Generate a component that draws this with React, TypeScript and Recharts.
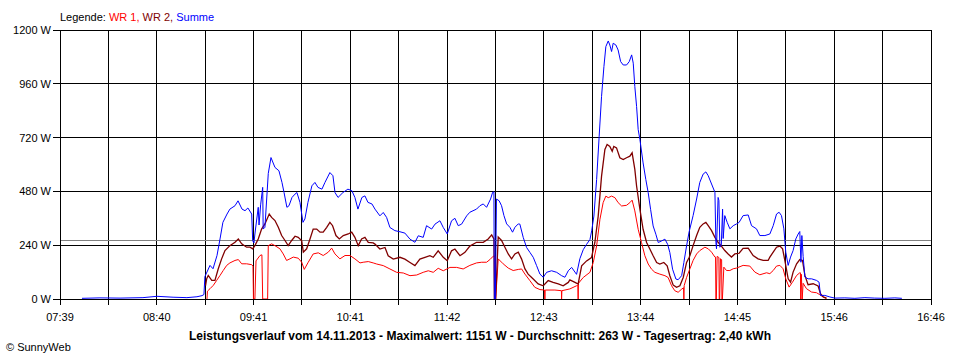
import { LineChart, Line, XAxis, YAxis, CartesianGrid, ReferenceLine } from 'recharts';

// time in minutes after midnight, power in W
const xLabels = ["07:39", "08:40", "09:41", "10:41", "11:42", "12:43", "13:44", "14:45", "15:46", "16:46"];
const yTicks = [0, 240, 480, 720, 960, 1200];
const durchschnitt = 263;

const wr1: [number, number][] = [
  [551.3, 0], [551.6, 35], [553.2, 46], [555.3, 61], [557.4, 83], [559.5, 105], [561.5, 127], [563.7, 150],
  [565.7, 161], [568.9, 172], [571.0, 176], [573.1, 157], [576.2, 157], [579.4, 153], [580.2, 147], [580.5, 0],
  [581.4, 0], [582.1, 170], [584.6, 194], [585.8, 197], [586.3, 0], [589.4, 0], [589.8, 238], [591.9, 246],
  [594.0, 238], [597.1, 224], [599.2, 201], [601.3, 172], [603.4, 179], [605.5, 187], [608.6, 182], [610.8, 164],
  [612.4, 132], [614.9, 164], [618.0, 201], [621.2, 206], [624.3, 194], [627.5, 209], [629.6, 227], [631.7, 201],
  [634.8, 179], [638.0, 194], [641.1, 194], [644.2, 179], [647.4, 161], [649.4, 164], [652.6, 167], [655.7, 161],
  [657.9, 156], [662.0, 149], [666.2, 134], [670.4, 119], [674.6, 116], [678.8, 104], [683.0, 107], [687.1, 119],
  [690.3, 126], [693.4, 119], [696.5, 137], [699.7, 126], [703.9, 141], [708.1, 141], [712.2, 134], [716.4, 150],
  [720.6, 161], [723.8, 164], [726.9, 164], [729.0, 176], [731.1, 191], [732.1, 191], [732.3, 0], [732.6, 0],
  [734.2, 179], [737.3, 157], [740.5, 138], [743.6, 127], [746.8, 132], [748.9, 134], [751.0, 111], [754.1, 82],
  [757.2, 52], [760.4, 42], [763.3, 40], [763.5, 0], [763.7, 40], [769.8, 40], [773.9, 37], [774.0, 0],
  [774.2, 37], [779.2, 45], [783.4, 59], [784.2, 62], [784.4, 0], [784.6, 70], [787.6, 96], [791.8, 119],
  [793.9, 163], [796.0, 237], [798.1, 356], [800.1, 430], [801.8, 459], [803.3, 452], [805.4, 459], [807.5, 452],
  [809.5, 430], [811.7, 415], [814.8, 418], [816.9, 430], [818.3, 441], [820.0, 393], [822.1, 311], [824.2, 252],
  [826.3, 193], [828.4, 156], [830.5, 133], [832.6, 119], [835.7, 111], [838.9, 104], [840.9, 96], [843.1, 59],
  [845.1, 37], [847.2, 30], [849.4, 44], [850.6, 50], [850.8, 0], [851.0, 60], [852.5, 96], [854.1, 126],
  [854.6, 135], [856.6, 172], [858.8, 201], [860.8, 216], [864.0, 231], [866.1, 224], [868.2, 209], [870.3, 187],
  [870.7, 187], [870.9, 0], [871.2, 0], [871.7, 190], [872.8, 185], [873.0, 0], [873.3, 0], [873.8, 180],
  [874.5, 175], [874.7, 0], [875.0, 0], [875.9, 142], [877.6, 127], [879.7, 127], [881.8, 135], [883.9, 138],
  [888.0, 150], [892.2, 147], [895.4, 120], [898.5, 108], [902.7, 117], [904.8, 113], [906.9, 127], [909.0, 147],
  [911.1, 150], [913.1, 135], [914.8, 90], [916.9, 53], [919.0, 75], [921.6, 105], [923.6, 117], [924.0, 117],
  [924.2, 0], [924.6, 110], [925.1, 0], [925.7, 70], [927.8, 46], [931.0, 31], [934.1, 28], [936.2, 19],
  [938.3, 9], [940.4, 1],
];

const wr2: [number, number][] = [
  [550.4, 60], [551.1, 90], [552.1, 105], [554.3, 83], [556.3, 83], [558.4, 135], [560.5, 179], [562.6, 216],
  [565.7, 238], [568.9, 253], [571.0, 268], [573.1, 246], [576.2, 231], [578.3, 231], [580.0, 224], [581.4, 238],
  [583.5, 268], [585.6, 312], [587.7, 335], [590.4, 379], [591.9, 364], [594.0, 350], [596.1, 320], [598.2, 283],
  [600.3, 261], [602.3, 238], [604.5, 261], [606.6, 280], [608.6, 275], [610.8, 260], [611.8, 209], [613.9, 224],
  [616.0, 268], [618.0, 312], [620.2, 312], [622.3, 298], [624.3, 298], [626.5, 320], [628.5, 342], [630.2, 327],
  [632.3, 283], [634.4, 268], [636.9, 283], [640.0, 290], [642.2, 298], [644.2, 275], [646.3, 238], [648.4, 268],
  [650.5, 275], [652.6, 253], [655.7, 250], [656.8, 245], [659.9, 223], [663.1, 230], [665.1, 193], [668.3, 178],
  [672.5, 186], [675.6, 178], [678.8, 163], [681.9, 149], [685.0, 178], [688.2, 186], [691.3, 193], [693.4, 186],
  [696.5, 215], [699.7, 186], [702.2, 171], [704.9, 215], [707.0, 223], [710.2, 193], [713.3, 208], [716.4, 236],
  [720.6, 253], [724.8, 253], [727.9, 268], [730.1, 286], [731.5, 268], [731.8, 0], [732.6, 0], [734.2, 276],
  [736.3, 261], [738.4, 231], [740.5, 201], [742.6, 179], [744.7, 201], [746.8, 209], [748.9, 178], [751.0, 134],
  [753.0, 111], [756.2, 89], [759.3, 67], [762.5, 59], [765.6, 82], [768.7, 74], [771.9, 67], [775.0, 59],
  [778.2, 74], [779.2, 85], [782.4, 74], [784.4, 67], [786.6, 148], [789.7, 170], [792.8, 185], [794.9, 252],
  [797.0, 370], [799.1, 548], [801.2, 667], [802.6, 689], [804.3, 681], [805.8, 659], [806.8, 681], [808.5, 674],
  [810.6, 630], [812.7, 622], [814.8, 630], [816.9, 637], [818.3, 652], [820.0, 578], [821.1, 504], [823.2, 400],
  [825.2, 311], [827.4, 252], [829.5, 222], [831.5, 193], [833.7, 163], [835.7, 156], [838.2, 163], [840.3, 148],
  [842.0, 104], [844.1, 62], [846.2, 52], [848.3, 59], [850.4, 96], [852.5, 163], [854.1, 185], [854.6, 194],
  [856.6, 238], [858.8, 283], [860.8, 320], [862.9, 335], [864.6, 342], [866.1, 327], [868.2, 305], [870.3, 275],
  [872.3, 253], [874.5, 235], [876.5, 216], [878.6, 201], [880.7, 187], [882.8, 201], [885.5, 204], [888.0, 226],
  [891.2, 227], [894.3, 194], [897.4, 179], [900.6, 172], [903.7, 172], [904.8, 187], [906.9, 209], [909.0, 231],
  [911.1, 236], [912.8, 224], [914.2, 172], [916.3, 90], [917.8, 75], [919.4, 120], [921.6, 157], [923.6, 176],
  [925.3, 172], [926.8, 105], [928.8, 64], [932.0, 68], [935.1, 58], [936.6, 24], [938.3, 9], [940.4, 4],
];

const summe: [number, number][] = [
  [472.8, 3], [484.1, 5], [496.7, 4], [511.1, 6], [519.9, 12], [530.0, 8], [538.7, 6], [545.0, 10],
  [548.2, 15], [549.4, 20], [550.0, 100], [553.2, 150], [555.1, 135], [557.6, 194], [559.5, 268], [561.3, 342],
  [563.9, 379], [565.7, 401], [568.9, 416], [570.8, 438], [573.3, 401], [575.2, 394], [577.0, 406], [579.4, 379],
  [580.0, 260], [580.8, 250], [581.4, 290], [583.5, 409], [584.0, 330], [585.0, 420], [586.3, 498], [586.6, 312],
  [587.7, 320], [589.8, 560], [591.5, 631], [594.0, 587], [596.5, 572], [598.4, 520], [599.7, 475], [601.5, 409],
  [602.8, 416], [604.7, 453], [606.6, 468], [607.8, 475], [609.7, 431], [611.6, 342], [612.8, 357], [614.7, 431],
  [617.2, 505], [619.1, 520], [621.0, 498], [623.5, 490], [625.4, 520], [628.5, 564], [630.4, 550], [631.7, 475],
  [633.6, 453], [636.7, 475], [639.8, 490], [642.3, 483], [644.2, 453], [646.1, 401], [648.6, 453], [650.5, 460],
  [652.4, 431], [654.9, 424], [656.8, 401], [659.9, 371], [662.0, 386], [664.1, 364], [666.2, 319], [669.3, 305],
  [672.5, 300], [675.6, 294], [678.8, 267], [681.9, 253], [684.0, 282], [687.1, 275], [689.2, 327], [692.4, 312],
  [694.5, 334], [697.6, 349], [699.7, 319], [702.2, 290], [704.9, 349], [707.0, 360], [709.1, 327], [711.2, 334],
  [714.4, 371], [716.4, 387], [720.6, 401], [722.7, 416], [724.8, 424], [726.9, 409], [729.4, 446], [730.7, 476],
  [731.5, 478], [731.8, 0], [732.4, 0], [733.1, 446], [734.8, 438], [736.3, 416], [737.8, 372], [739.5, 335],
  [741.5, 320], [743.2, 298], [744.7, 320], [746.8, 335], [747.8, 334], [749.9, 275], [752.0, 230], [754.1, 208],
  [756.2, 186], [758.3, 149], [760.4, 111], [762.5, 97], [764.6, 119], [767.7, 126], [770.9, 119], [774.0, 104],
  [776.1, 97], [778.2, 126], [780.3, 141], [782.4, 120], [783.4, 110], [785.5, 180], [787.6, 220], [789.7, 244],
  [791.8, 265], [792.9, 304], [794.3, 370], [796.0, 533], [797.6, 726], [799.1, 904], [800.6, 1037], [801.8, 1126],
  [803.3, 1151], [804.3, 1133], [805.4, 1104], [806.4, 1141], [808.1, 1133], [809.5, 1111], [811.1, 1059], [812.7, 1044],
  [814.8, 1044], [816.5, 1059], [818.0, 1089], [819.0, 1052], [820.0, 948], [821.1, 859], [822.1, 756], [823.2, 711],
  [825.2, 607], [826.9, 533], [828.4, 474], [829.9, 400], [831.5, 326], [833.2, 289], [834.7, 252], [836.8, 259],
  [838.9, 267], [840.6, 244], [842.0, 207], [843.7, 133], [845.8, 89], [847.2, 86], [849.4, 104], [850.8, 163],
  [852.5, 237], [854.1, 300], [856.6, 372], [858.8, 446], [860.8, 520], [862.9, 557], [864.6, 567], [866.1, 550],
  [868.2, 513], [870.3, 476], [870.9, 253], [871.3, 224], [872.3, 453], [872.8, 440], [873.4, 231], [874.3, 240],
  [875.1, 401], [875.5, 270], [876.5, 372], [878.0, 342], [879.7, 313], [881.8, 327], [883.9, 335], [885.5, 342],
  [888.0, 372], [891.2, 375], [893.3, 327], [896.4, 313], [898.5, 283], [901.7, 283], [904.8, 290], [906.9, 327],
  [909.0, 379], [910.6, 387], [912.1, 372], [913.6, 313], [914.8, 209], [916.3, 150], [917.8, 187], [919.4, 216],
  [921.1, 268], [922.6, 290], [923.6, 301], [924.3, 164], [924.9, 283], [925.7, 190], [926.8, 98], [928.8, 90],
  [931.0, 90], [934.1, 83], [935.7, 75], [936.6, 16], [939.3, 16], [942.5, 9], [945.6, 4], [951.9, 5],
  [958.2, 3], [964.5, 6], [970.7, 4], [977.0, 3], [983.3, 5], [987.7, 3],
];

const X_START = 459; // 07:39
const X_END = 1006; // 16:46
const GRID_STEPS = 18;
const xTicks = Array.from({ length: GRID_STEPS + 1 }, (_, i) => X_START + (i * (X_END - X_START)) / GRID_STEPS);

const toRows = (pts: [number, number][]) => pts.map(([t, v]) => ({ t, v }));

const font = "'Liberation Sans', Arial, sans-serif";

export default function App() {
  return (
    <div style={{ position: 'relative', width: 960, height: 360, background: '#fff', fontFamily: font }}>
      <style>{'body{margin:0} .recharts-cartesian-grid line, .recharts-cartesian-axis-line, .recharts-cartesian-axis-tick-line, .recharts-reference-line line{shape-rendering:crispEdges}'}</style>
      <div style={{ position: 'absolute', left: 60, top: 10, fontSize: 11, lineHeight: '14px', whiteSpace: 'nowrap' }}>
        <span style={{ color: '#000' }}>Legende: </span>
        <span style={{ color: '#ff0000' }}>WR 1, </span>
        <span style={{ color: '#800000' }}>WR 2, </span>
        <span style={{ color: '#0000ff' }}>Summe</span>
      </div>
      <LineChart width={960} height={360} margin={{ top: 30, right: 29, left: 0, bottom: 31 }}>
        <CartesianGrid stroke="#000" strokeWidth={1} />
        <XAxis
          type="number"
          dataKey="t"
          domain={[X_START, X_END]}
          ticks={xTicks}
          interval={0}
          allowDataOverflow
          stroke="#000"
          tickSize={6}
          tickMargin={8}
          tick={{ fill: '#000', fontSize: 11, fontFamily: font }}
          tickFormatter={(v: number) => {
            const i = Math.round(((v - X_START) / (X_END - X_START)) * GRID_STEPS);
            return i % 2 === 0 ? xLabels[i / 2] : '';
          }}
        />
        <YAxis
          type="number"
          domain={[0, 1200]}
          ticks={yTicks}
          interval={0}
          width={60}
          stroke="#000"
          tickSize={7}
          tickMargin={2}
          tick={{ fill: '#000', fontSize: 11, fontFamily: font }}
          tickFormatter={(v: number) => `${v} W`}
        />
        <ReferenceLine y={durchschnitt} stroke="#808080" strokeWidth={1} />
        <Line data={toRows(wr1)} dataKey="v" type="linear" stroke="#ff0000" strokeWidth={1} dot={false} isAnimationActive={false} />
        <Line data={toRows(wr2)} dataKey="v" type="linear" stroke="#800000" strokeWidth={1.3} dot={false} isAnimationActive={false} />
        <Line data={toRows(summe)} dataKey="v" type="linear" stroke="#0000ff" strokeWidth={1} dot={false} isAnimationActive={false} />
      </LineChart>
      <div style={{ position: 'absolute', left: 0, width: 960, top: 329, textAlign: 'center', fontSize: 12, fontWeight: 'bold', whiteSpace: 'nowrap' }}>
        Leistungsverlauf vom 14.11.2013 - Maximalwert: 1151 W - Durchschnitt: 263 W - Tagesertrag: 2,40 kWh
      </div>
      <div style={{ position: 'absolute', left: 6, top: 341, fontSize: 11, whiteSpace: 'nowrap' }}>© SunnyWeb</div>
    </div>
  );
}
